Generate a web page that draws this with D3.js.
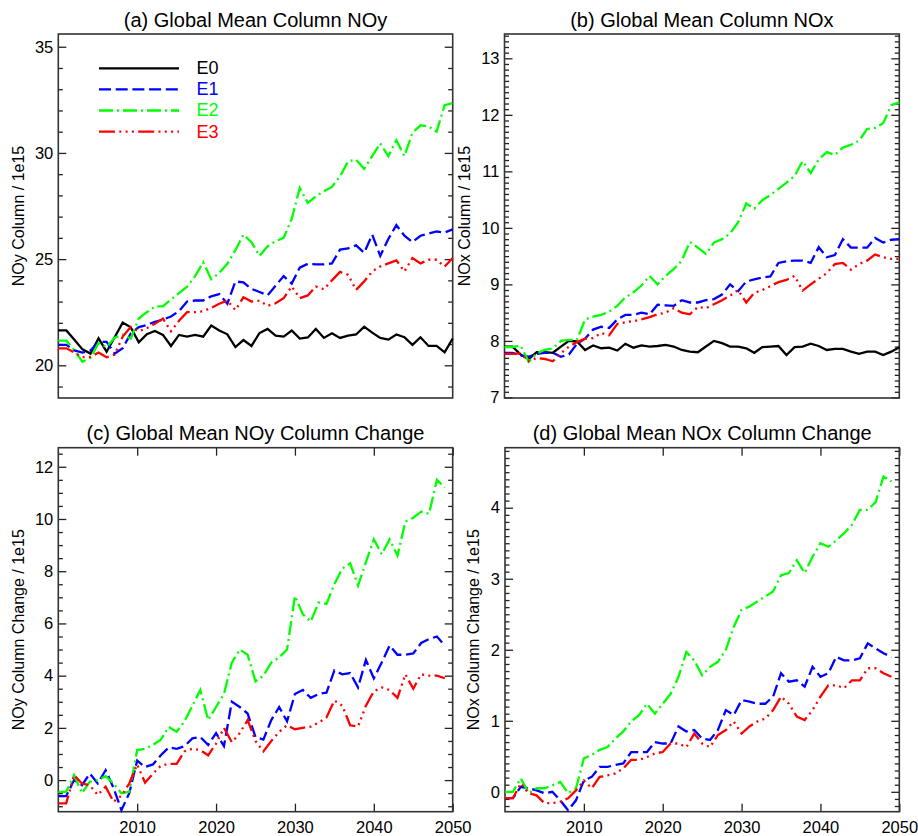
<!DOCTYPE html>
<html>
<head>
<meta charset="utf-8">
<script src="https://cdn.jsdelivr.net/npm/d3@7"></script>
<style>
body { margin: 0; background: #fff; }
svg { display: block; font-family: "Liberation Sans", Arial, Helvetica, sans-serif; }
</style>
</head>
<body>
<div id="main"></div>
<script>
// annual values, 2000..2049
var years = d3.range(2000, 2050)
var yearTicks = [2010, 2020, 2030, 2040, 2050]
var runs = ["E0", "E1", "E2", "E3"]

// (a) global mean NOy column, 1e15
var noyE0 = [21.64, 21.64, 21.2, 20.75, 20.55, 21.27, 20.64, 21.32, 22.01, 21.79, 21.08, 21.46, 21.62, 21.43, 20.91, 21.43, 21.35, 21.43, 21.35, 21.87, 21.64, 21.46, 20.86, 21.19, 20.91, 21.52, 21.71, 21.40, 21.35, 21.64, 21.26, 21.31, 21.71, 21.29, 21.51, 21.29, 21.40, 21.45, 21.82, 21.54, 21.29, 21.21, 21.45, 21.32, 20.96, 21.32, 20.91, 20.91, 20.61, 21.26]
var noyE1 = [20.96, 20.96, 20.7, 20.6, 20.7, 21.1, 21.1, 20.55, 20.8, 21.5, 21.8, 21.9, 22.05, 22.15, 22.3, 22.55, 23.0, 23.05, 23.05, 23.25, 23.35, 22.9, 23.95, 23.9, 23.6, 23.45, 23.3, 23.75, 24.2, 23.85, 24.6, 24.78, 24.75, 24.75, 24.8, 25.45, 25.5, 25.65, 25.3, 26.15, 25.15, 25.95, 26.6, 26.1, 25.8, 26.1, 26.2, 26.3, 26.25, 26.4]
var noyE2 = [21.16, 21.16, 20.7, 20.17, 20.35, 21.05, 20.85, 21.3, 21.45, 21.25, 22.2, 22.5, 22.77, 22.77, 23.1, 23.4, 23.7, 24.2, 24.85, 24.05, 24.35, 24.78, 25.42, 26.15, 25.8, 25.15, 25.6, 25.85, 26.0, 26.9, 28.35, 27.64, 27.95, 28.2, 28.4, 28.9, 29.6, 29.68, 29.25, 29.85, 30.45, 29.85, 30.6, 29.85, 30.95, 31.3, 31.25, 31.0, 32.25, 32.35]
var noyE3 = [20.8, 20.8, 20.6, 20.38, 20.4, 20.6, 20.38, 20.5, 21.35, 21.8, 21.6, 21.75, 21.95, 22.2, 21.6, 22.1, 22.5, 22.5, 22.55, 22.7, 22.9, 23.05, 22.6, 23.2, 23.0, 23.05, 22.8, 22.92, 23.16, 23.71, 23.16, 23.29, 23.71, 23.58, 24.0, 24.4, 24.26, 23.55, 23.95, 24.42, 24.65, 24.8, 24.94, 24.42, 25.05, 24.8, 24.97, 24.97, 24.65, 25.05]

// (b) global mean NOx column, 1e15
var noxE0 = [7.9, 7.9, 7.76, 7.68, 7.8, 7.8, 7.79, 7.9, 8.0, 7.99, 7.84, 7.92, 7.87, 7.88, 7.83, 7.95, 7.88, 7.92, 7.9, 7.91, 7.93, 7.9, 7.84, 7.81, 7.8, 7.9, 8.0, 7.96, 7.9, 7.9, 7.87, 7.79, 7.89, 7.9, 7.91, 7.75, 7.89, 7.9, 7.95, 7.91, 7.84, 7.86, 7.86, 7.81, 7.77, 7.81, 7.81, 7.75, 7.81, 7.89]
var noxE1 = [7.79, 7.79, 7.74, 7.72, 7.77, 7.79, 7.79, 7.72, 7.76, 7.95, 8.04, 8.2, 8.25, 8.23, 8.38, 8.46, 8.46, 8.5, 8.47, 8.64, 8.63, 8.62, 8.72, 8.68, 8.68, 8.72, 8.74, 8.82, 9.0, 8.88, 9.05, 9.09, 9.12, 9.14, 9.38, 9.41, 9.42, 9.42, 9.38, 9.66, 9.48, 9.52, 9.8, 9.65, 9.65, 9.65, 9.82, 9.74, 9.79, 9.8]
var noxE2 = [7.89, 7.89, 7.92, 7.63, 7.78, 7.84, 7.87, 8.0, 8.02, 8.02, 8.38, 8.43, 8.46, 8.52, 8.62, 8.77, 8.86, 8.98, 9.15, 9.0, 9.15, 9.27, 9.42, 9.75, 9.65, 9.54, 9.74, 9.8, 9.9, 10.1, 10.43, 10.34, 10.49, 10.58, 10.69, 10.8, 10.92, 11.18, 10.97, 11.21, 11.34, 11.29, 11.42, 11.47, 11.54, 11.75, 11.77, 11.85, 12.17, 12.22]
var noxE3 = [7.77, 7.77, 7.78, 7.64, 7.7, 7.68, 7.64, 7.78, 7.9, 7.98, 8.04, 8.05, 8.14, 8.1, 8.3, 8.33, 8.35, 8.38, 8.42, 8.47, 8.5, 8.58, 8.5, 8.47, 8.6, 8.58, 8.65, 8.72, 8.8, 8.9, 8.68, 8.85, 8.9, 8.97, 9.04, 9.08, 9.15, 8.89, 9.0, 9.1, 9.2, 9.36, 9.38, 9.26, 9.36, 9.42, 9.53, 9.48, 9.45, 9.45]

// (c) NOy column change relative to E0
var dNoyE1 = [-0.61, -0.61, 0.0, -0.19, 0.25, -0.13, 0.38, -0.3, -1.15, -0.5, 0.75, 0.5, 0.6, 0.95, 1.25, 1.2, 1.3, 1.6, 1.65, 1.35, 1.8, 1.3, 3.0, 2.8, 2.55, 1.65, 1.55, 2.3, 2.8, 2.25, 3.3, 3.45, 3.15, 3.3, 3.35, 4.2, 4.05, 4.1, 3.55, 4.6, 3.9, 4.5, 5.15, 4.8, 4.8, 4.85, 5.25, 5.4, 5.5, 5.15]
var dNoyE2 = [-0.45, -0.45, 0.19, -0.5, -0.06, 0.0, 0.15, -0.13, -0.5, -0.45, 1.15, 1.2, 1.35, 1.55, 2.04, 1.85, 2.25, 2.85, 3.45, 2.3, 2.8, 3.3, 4.5, 5.0, 4.8, 3.78, 4.0, 4.5, 4.7, 5.0, 7.05, 6.35, 6.07, 6.8, 6.75, 7.5, 8.1, 8.3, 7.45, 8.35, 9.22, 8.65, 9.22, 8.6, 9.9, 10.05, 10.28, 10.2, 11.5, 11.2]
var dNoyE3 = [-0.89, -0.89, 0.19, -0.13, -0.2, -0.57, -0.25, -0.83, -0.6, -0.13, 0.6, -0.1, 0.25, 0.55, 0.62, 0.62, 1.1, 1.2, 1.15, 0.95, 1.4, 2.0, 1.45, 1.8, 2.3, 1.5, 1.1, 1.5, 1.85, 2.1, 1.95, 2.0, 2.05, 2.2, 2.4, 3.05, 2.85, 2.1, 2.05, 2.85, 3.4, 3.55, 3.45, 3.15, 4.05, 3.5, 4.05, 4.0, 4.0, 3.9]

// (d) NOx column change relative to E0
var dNoxE1 = [-0.09, -0.09, 0.07, 0.05, 0.02, -0.02, 0.0, -0.12, -0.26, -0.12, 0.16, 0.21, 0.35, 0.35, 0.38, 0.4, 0.56, 0.56, 0.56, 0.7, 0.68, 0.68, 0.92, 0.85, 0.87, 0.75, 0.73, 0.87, 1.15, 1.08, 1.29, 1.27, 1.24, 1.24, 1.34, 1.67, 1.55, 1.57, 1.48, 1.76, 1.62, 1.67, 1.9, 1.85, 1.85, 1.88, 2.09, 2.02, 1.95, 1.9]
var dNoxE2 = [0.0, 0.0, 0.19, -0.02, 0.05, 0.05, 0.09, 0.14, -0.02, 0.05, 0.47, 0.52, 0.59, 0.63, 0.75, 0.85, 0.99, 1.08, 1.24, 1.1, 1.24, 1.38, 1.62, 1.97, 1.85, 1.64, 1.76, 1.83, 2.0, 2.32, 2.56, 2.61, 2.68, 2.75, 2.82, 3.05, 3.08, 3.26, 3.08, 3.31, 3.5, 3.45, 3.54, 3.64, 3.76, 3.97, 3.97, 4.08, 4.44, 4.37]
var dNoxE3 = [-0.09, -0.09, 0.12, -0.02, -0.05, -0.16, -0.16, -0.14, -0.09, 0.02, 0.16, 0.05, 0.21, 0.23, 0.26, 0.33, 0.45, 0.45, 0.49, 0.54, 0.56, 0.68, 0.68, 0.63, 0.82, 0.68, 0.63, 0.8, 0.87, 0.99, 0.82, 0.92, 0.99, 1.03, 1.15, 1.34, 1.24, 1.06, 1.01, 1.15, 1.34, 1.5, 1.5, 1.46, 1.57, 1.57, 1.74, 1.74, 1.67, 1.62]

var colors = {E0: "#000000", E1: "#0000ff", E2: "#00ff00", E3: "#ff0000"}
var dashes = {E0: null, E1: "12,4.7", E2: "14,4,2,4", E3: "16,4.3,2,4.3,2,4.3,2,4.3"}

var panels = [
  {title: "(a) Global Mean Column NOy", ytitle: "NOy Column / 1e15",
   left: 58.3, right: 452.7, top: 34, bottom: 398, ytitleX: 18.5,
   xdom: [2000, 2049], ydom: [18.46, 35.6], yticks: [20, 25, 30, 35], minor: 1, xlabels: false,
   data: {E0: noyE0, E1: noyE1, E2: noyE2, E3: noyE3}, legend: true},
  {title: "(b) Global Mean Column NOx", ytitle: "NOx Column / 1e15",
   left: 504.5, right: 899.3, top: 34, bottom: 398, ytitleX: 464,
   xdom: [2000, 2049], ydom: [6.99, 13.43], yticks: [7, 8, 9, 10, 11, 12, 13], minor: 0.1, xlabels: false,
   data: {E0: noxE0, E1: noxE1, E2: noxE2, E3: noxE3}},
  {title: "(c) Global Mean NOy Column Change", ytitle: "NOy Column Change / 1e15",
   left: 58.3, right: 452.7, top: 447.7, bottom: 811.7, ytitleX: 18.5,
   xdom: [2000, 2050], ydom: [-1.21, 12.73], yticks: [0, 2, 4, 6, 8, 10, 12], minor: 0.5, xlabels: true,
   data: {E1: dNoyE1, E2: dNoyE2, E3: dNoyE3}},
  {title: "(d) Global Mean NOx Column Change", ytitle: "NOx Column Change / 1e15",
   left: 505, right: 899.3, top: 447.7, bottom: 811.7, ytitleX: 473,
   xdom: [2000, 2050], ydom: [-0.28, 4.845], yticks: [0, 1, 2, 3, 4], minor: 0.1, xlabels: true,
   data: {E1: dNoxE1, E2: dNoxE2, E3: dNoxE3}}
]

var svg = d3.select("#main").append("svg").attr("width", 918).attr("height", 836)

panels.forEach(p => {
  var w = p.right - p.left, h = p.bottom - p.top
  var x = d3.scaleLinear().domain(p.xdom).range([0, w])
  var y = d3.scaleLinear().domain(p.ydom).range([h, 0])
  var g = svg.append("g").attr("transform", `translate(${p.left},${p.top})`)

  // minor tick values
  var k0 = Math.ceil(p.ydom[0] / p.minor - 1e-6), k1 = Math.floor(p.ydom[1] / p.minor + 1e-6)
  var minorVals = d3.range(k0, k1 + 1).map(k => +(k * p.minor).toFixed(3)).filter(v => p.yticks.indexOf(v) < 0)

  g.append("g").attr("class", "ax")
    .call(d3.axisLeft(y).tickValues(minorVals).tickSize(-4.5).tickFormat(""))
  g.append("g").attr("class", "ax").attr("transform", `translate(${w},0)`)
    .call(d3.axisRight(y).tickValues(minorVals).tickSize(-4.5).tickFormat(""))
  g.append("g").attr("class", "ax lab")
    .call(d3.axisLeft(y).tickValues(p.yticks).tickSize(-8).tickPadding(5).tickFormat(d3.format("d")))
  g.append("g").attr("class", "ax").attr("transform", `translate(${w},0)`)
    .call(d3.axisRight(y).tickValues(p.yticks).tickSize(-8).tickFormat(""))

  if (p.xlabels) {
    g.append("g").attr("class", "ax lab").attr("transform", `translate(0,${h})`)
      .call(d3.axisBottom(x).tickValues(yearTicks).tickSize(-8).tickPadding(10).tickFormat(d3.format("d")))
    g.append("g").attr("class", "ax")
      .call(d3.axisTop(x).tickValues(yearTicks).tickSize(-8).tickFormat(""))
  }

  g.selectAll(".ax .domain").remove()
  g.selectAll(".ax line").attr("stroke", "#222").attr("stroke-width", 1.3)
  g.selectAll(".lab text").attr("font-size", "16.5px").attr("fill", "#000")
    .attr("font-family", '"Liberation Sans", Arial, sans-serif')

  // frame
  g.append("rect").attr("width", w).attr("height", h)
    .attr("fill", "none").attr("stroke", "#333").attr("stroke-width", 1.6)

  // series
  var line = d3.line().x((d, i) => x(years[i])).y(d => y(d))
  Object.keys(p.data).forEach(name => {
    g.append("path").datum(p.data[name])
      .attr("d", line)
      .attr("fill", "none")
      .attr("stroke", colors[name])
      .attr("stroke-width", 2.3)
      .attr("stroke-linejoin", "miter")
      .attr("stroke-dasharray", dashes[name])
  })

  // titles
  svg.append("text")
    .attr("x", (p.left + p.right) / 2).attr("y", p.top - 7.5)
    .attr("text-anchor", "middle").attr("font-size", "20px")
    .text(p.title)
  svg.append("text")
    .attr("transform", `translate(${p.ytitleX},${(p.top + p.bottom) / 2}) rotate(-90)`)
    .attr("text-anchor", "middle").attr("dy", "0.35em").attr("font-size", "16px")
    .text(p.ytitle)

  if (p.legend) {
    var lg = g.append("g").attr("transform", "translate(40.7,34.3)")
    runs.forEach((name, k) => {
      var ly = k * 21.1
      lg.append("line").attr("x1", 0).attr("x2", 80).attr("y1", ly).attr("y2", ly)
        .attr("stroke", colors[name]).attr("stroke-width", 2.3)
        .attr("stroke-dasharray", dashes[name])
      lg.append("text").attr("x", 97.4).attr("y", ly + 6)
        .attr("font-size", "18px").attr("fill", colors[name])
        .text(name)
    })
  }
})
</script>
</body>
</html>
